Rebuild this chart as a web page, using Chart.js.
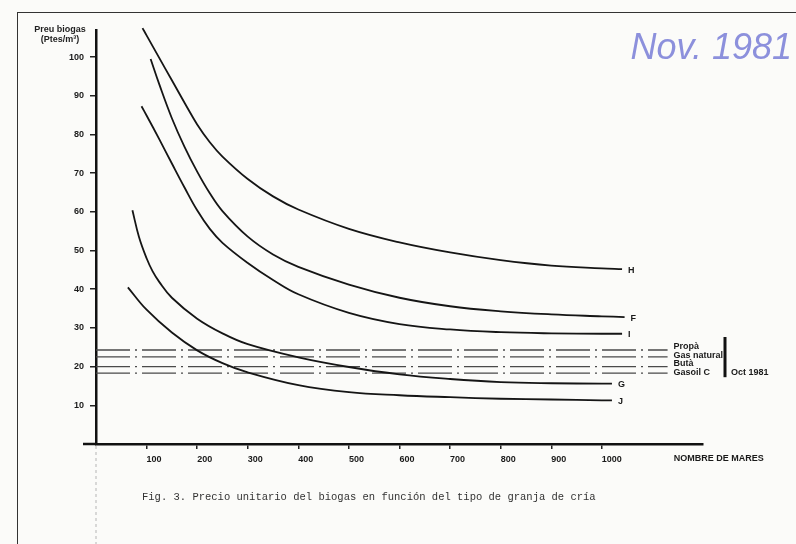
<!DOCTYPE html>
<html>
<head>
<meta charset="utf-8">
<script src="https://cdn.jsdelivr.net/npm/chart.js@4/dist/chart.umd.min.js"></script>
<style>
  body { margin: 0; background: #fbfbf9; }
  #wrap { position: relative; width: 796px; height: 544px; overflow: hidden; }
  canvas { display: block; position: absolute; left: 0; top: 0; }
  .frame-top { position: absolute; left: 17px; top: 12px; right: 0; border-top: 1.5px solid #333; }
  .frame-left { position: absolute; left: 17px; top: 12px; bottom: 0; border-left: 1.5px solid #333; }
  .ytitle { position: absolute; left: 28px; top: 24px; width: 64px; text-align: center;
            font: bold 9px "Liberation Sans", sans-serif; line-height: 10px; color: #222; }
  .stamp { position: absolute; right: 4px; top: 29px; font: italic 36px "Liberation Sans", Arial, sans-serif;
           line-height: 36px; color: #8c90dc; }
  .caption { position: absolute; left: 142px; top: 491px; font: 10.5px "Liberation Mono", monospace;
             line-height: 12px; color: #333; white-space: pre; }
</style>
</head>
<body>
<div id="wrap">
  <div class="frame-top"></div>
  <div class="frame-left"></div>
  <canvas id="chart" width="796" height="544"></canvas>
  <div class="ytitle">Preu biogas<br>(Ptes/m³)</div>
  <div class="stamp">Nov. 1981</div>
  <div class="caption">Fig. 3. Precio unitario del biogas en función del tipo de granja de cría</div>
</div>
<script>
// number of sows (x) -> unit price of biogas, Ptes/m3 (y)
var hX = [92, 100, 125, 150, 175, 200, 225, 250, 300, 350, 400, 500, 600, 700, 800, 900, 1000, 1040];
var hY = [107.5, 105.6, 99.8, 94.0, 88.2, 82.6, 78.0, 74.3, 68.5, 64.0, 60.6, 55.6, 52.1, 49.5, 47.5, 46.1, 45.4, 45.2];

var fX = [108, 125, 150, 175, 200, 225, 250, 300, 350, 400, 500, 600, 700, 800, 900, 1000, 1045];
var fY = [99.5, 93.0, 84.2, 76.8, 70.4, 64.8, 60.2, 53.6, 49.0, 45.8, 41.2, 37.8, 35.6, 34.3, 33.5, 33.0, 32.8];

var iX = [90, 100, 125, 150, 175, 200, 225, 250, 300, 350, 400, 500, 600, 700, 800, 900, 1000, 1040];
var iY = [87.3, 84.9, 78.8, 72.5, 66.3, 60.4, 55.6, 52.0, 46.8, 42.4, 38.7, 33.9, 31.0, 29.6, 28.9, 28.6, 28.5, 28.5];

var gX = [72, 85, 100, 112, 125, 150, 200, 250, 300, 400, 500, 600, 700, 800, 900, 1000, 1020];
var gY = [60.4, 53.5, 48.0, 44.6, 41.9, 37.8, 32.4, 28.6, 25.8, 22.4, 19.9, 18.0, 16.8, 16.0, 15.7, 15.6, 15.6];

var jX = [63, 100, 150, 200, 250, 300, 400, 500, 600, 700, 800, 900, 1000, 1020];
var jY = [40.5, 34.7, 28.8, 24.2, 20.9, 18.5, 15.2, 13.4, 12.6, 12.1, 11.7, 11.5, 11.3, 11.3];

var curveNames = ['H', 'F', 'I', 'G', 'J'];

// reference fuel prices, Oct 1981
var fuelNames = ['Propà', 'Gas natural', 'Butà', 'Gasoil C'];
var fuelPrices = [24.3, 22.5, 20, 18.3];
var fuelRange = [0, 1130];
var fuelDate = 'Oct 1981';

var xTitle = 'NOMBRE DE MARES';

function pts(xs, ys) {
    return xs.map(function (x, i) { return { x: x, y: ys[i] }; });
}

var curves = [[hX, hY], [fX, fY], [iX, iY], [gX, gY], [jX, jY]];

var datasets = curves.map(function (c, i) {
    return {
        label: curveNames[i],
        data: pts(c[0], c[1]),
        borderColor: '#151515',
        borderWidth: 1.8,
        pointRadius: 0,
        tension: 0.4,
        clip: 6
    };
});

fuelPrices.forEach(function (p, i) {
    datasets.push({
        label: fuelNames[i],
        data: [{ x: fuelRange[0], y: p }, { x: fuelRange[1], y: p }],
        borderColor: '#4a4a4a',
        borderWidth: 1.3,
        borderDash: [34, 5, 2, 5],
        pointRadius: 0
    });
});

// labels at the end of each line, plus the x title and the date bracket
var labelPlugin = {
    id: 'labels',
    afterDatasetsDraw: function (chart) {
        var c = chart.ctx;
        var x = chart.scales.x, y = chart.scales.y;
        c.save();
        c.fillStyle = '#1a1a1a';
        c.font = 'bold 9px "Liberation Sans", sans-serif';
        c.textBaseline = 'middle';
        c.textAlign = 'left';

        curveNames.forEach(function (n, i) {
            var d = chart.getDatasetMeta(i).data;
            var last = d[d.length - 1];
            c.fillText(n, last.x + 6, last.y + 1);
        });

        var first = chart.getDatasetMeta(5).data;
        var lastMeta = chart.getDatasetMeta(5 + fuelNames.length - 1).data;
        var top = first[1].y - 3, bottom = lastMeta[1].y - 1;
        var lx = first[1].x + 6;
        fuelNames.forEach(function (n, i) {
            c.fillText(n, lx, top + i * (bottom - top) / (fuelNames.length - 1));
        });

        // bracket + date
        c.strokeStyle = '#111';
        c.lineWidth = 3;
        c.beginPath();
        c.moveTo(725, top - 10);
        c.lineTo(725, bottom + 5);
        c.stroke();
        c.fillText(fuelDate, 731, bottom);

        // x axis title
        c.fillText(xTitle, x.getPixelForValue(1142), x.bottom - 85);

        // x axis line runs a little past the y axis
        c.lineWidth = 2.5;
        c.beginPath();
        c.moveTo(83, y.getPixelForValue(0));
        c.lineTo(x.left, y.getPixelForValue(0));
        c.stroke();

        // faint fold line under the origin
        c.strokeStyle = '#b5b5b5';
        c.lineWidth = 1;
        c.setLineDash([3, 3]);
        c.beginPath();
        c.moveTo(x.left, y.getPixelForValue(0) + 2);
        c.lineTo(x.left, 544);
        c.stroke();
        c.restore();
    }
};

var ctx = document.getElementById('chart').getContext('2d');

new Chart(ctx, {
    type: 'line',
    data: { datasets: datasets },
    plugins: [labelPlugin],
    options: {
        responsive: false,
        animation: false,
        devicePixelRatio: 1,
        layout: { padding: { top: 30, right: 93, left: 0, bottom: 0 } },
        plugins: { legend: { display: false }, tooltip: { enabled: false } },
        scales: {
            x: {
                type: 'linear',
                min: 0,
                max: 1200,
                afterFit: function (s) { s.height = 100; },
                grid: {
                    drawOnChartArea: false,
                    drawTicks: true,
                    tickLength: 5,
                    lineWidth: 1.5,
                    color: function (c) {
                        return (c.tick && c.tick.value > 0 && c.tick.value <= 1000) ? '#222' : 'rgba(0,0,0,0)';
                    }
                },
                border: { display: true, color: '#111', width: 2.5 },
                ticks: {
                    stepSize: 100,
                    includeBounds: false,
                    autoSkip: false,
                    maxRotation: 0,
                    align: 'start',
                    padding: 5,
                    color: '#1a1a1a',
                    font: { family: 'Liberation Sans', size: 9, weight: 'bold' },
                    callback: function (v) { return (v > 0 && v <= 1000) ? v : ''; }
                }
            },
            y: {
                min: 0,
                max: 107,
                afterFit: function (s) { s.width = 96; },
                grid: {
                    drawOnChartArea: false,
                    drawTicks: true,
                    tickLength: 6,
                    lineWidth: 1.5,
                    color: function (c) {
                        return (c.tick && c.tick.value > 0) ? '#222' : 'rgba(0,0,0,0)';
                    }
                },
                border: { display: true, color: '#111', width: 2.5 },
                ticks: {
                    stepSize: 10,
                    includeBounds: false,
                    padding: 6,
                    color: '#1a1a1a',
                    font: { family: 'Liberation Sans', size: 9, weight: 'bold' },
                    callback: function (v) { return v > 0 ? v : ''; }
                }
            }
        }
    }
});
</script>
</body>
</html>
